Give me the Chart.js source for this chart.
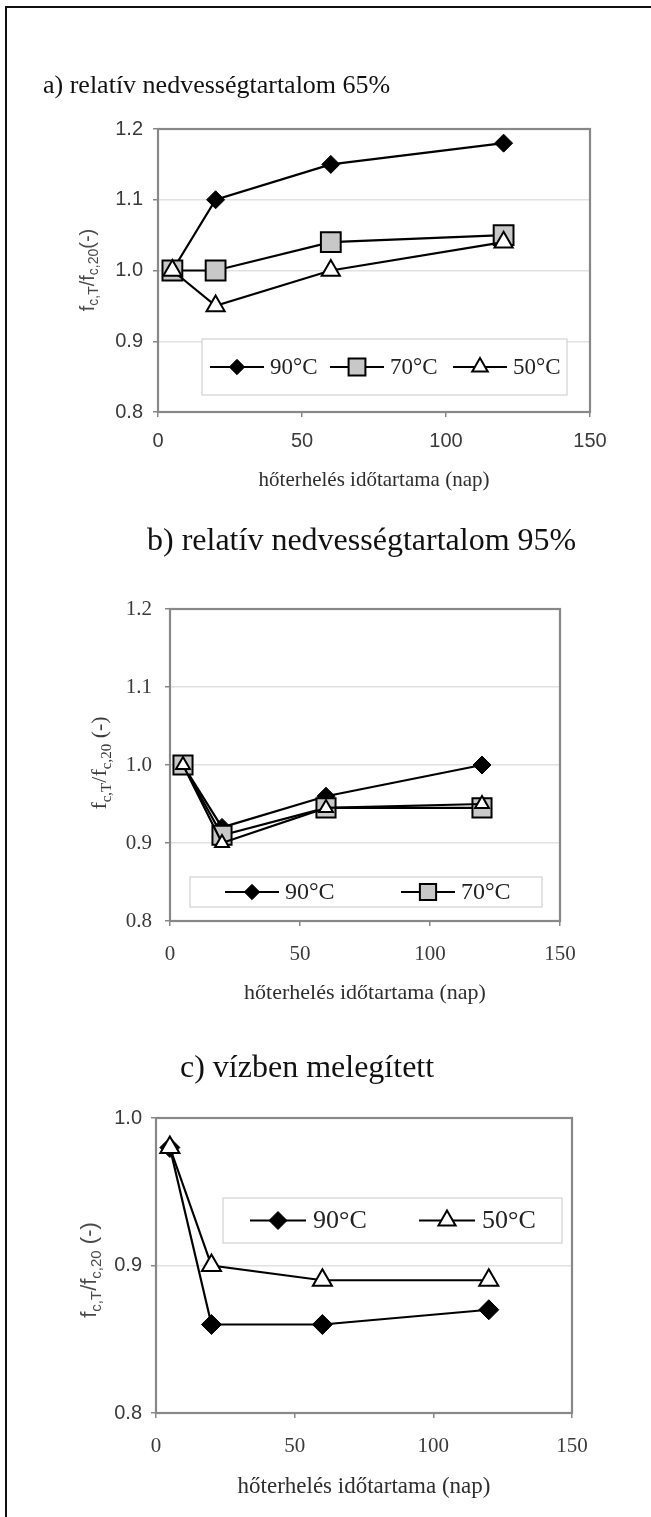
<!DOCTYPE html>
<html>
<head>
<meta charset="utf-8">
<title>Hőterhelés hatása a nyomószilárdságra</title>
<script src="https://cdn.jsdelivr.net/npm/chart.js@4.4.1/dist/chart.umd.min.js"></script>
<style>
  html, body { margin: 0; padding: 0; background: #fff; }
  #page { position: relative; width: 651px; height: 1517px; overflow: hidden; background: #fff; }
  #page canvas { position: absolute; left: 0; }
  .frame-top { position: absolute; left: 5px; top: 6px; width: 646px; border-top: 2px solid #111; }
  .frame-left { position: absolute; left: 5px; top: 6px; height: 1511px; border-left: 2px solid #111; }
</style>
</head>
<body>
<div id="page">
  <div class="frame-top"></div>
  <div class="frame-left"></div>
  <canvas id="chartA" width="651" height="510" style="top:0px"></canvas>
  <canvas id="chartB" width="651" height="510" style="top:510px"></canvas>
  <canvas id="chartC" width="651" height="497" style="top:1020px"></canvas>
</div>
<script>
// ---- data -------------------------------------------------------------
const days = [5, 20, 60, 120];                 // hőterhelés időtartama (nap)
const xTickValues = [0, 50, 100, 150];
const seriesNames = ['90°C', '70°C', '50°C'];

// a) relatív nedvességtartalom 65%
const rh65_90 = [1.00, 1.10, 1.15, 1.18];
const rh65_70 = [1.00, 1.00, 1.04, 1.05];
const rh65_50 = [1.00, 0.95, 1.00, 1.04];
const yTicksA = [0.8, 0.9, 1.0, 1.1, 1.2];

// b) relatív nedvességtartalom 95%
const rh95_90 = [1.00, 0.92, 0.96, 1.00];
const rh95_70 = [1.00, 0.91, 0.945, 0.945];
const rh95_50 = [1.00, 0.90, 0.945, 0.95];
const yTicksB = [0.8, 0.9, 1.0, 1.1, 1.2];

// c) vízben melegített
const water_90 = [0.98, 0.86, 0.86, 0.87];
const water_50 = [0.98, 0.90, 0.89, 0.89];
const yTicksC = [0.8, 0.9, 1.0];

const titles = ['a) relatív nedvességtartalom 65%', 'b) relatív nedvességtartalom 95%', 'c) vízben melegített'];
const xTitle = 'hőterhelés időtartama (nap)';

// ---- styling ----------------------------------------------------------
const SANS = "'Liberation Sans', Arial, sans-serif";
const SERIF = "'Liberation Serif', 'Times New Roman', serif";

const markerStyles = {
  '90°C': { pointStyle: 'rectRot', pointRadius: 9, pointBackgroundColor: '#000', pointBorderColor: '#000', pointBorderWidth: 1, order: 3 },
  '70°C': { pointStyle: 'rect', pointRadius: 14, pointBackgroundColor: '#c8c8c8', pointBorderColor: '#000', pointBorderWidth: 2, order: 2 },
  '50°C': { pointStyle: 'triangle', pointRadius: 10.5, pointBackgroundColor: '#fff', pointBorderColor: '#000', pointBorderWidth: 2, order: 1 }
};

function series(name, values, extra) {
  return Object.assign({
    label: name,
    data: days.map((d, i) => ({ x: d, y: values[i] })),
    borderColor: '#000',
    borderWidth: 2.2,
    pointHoverRadius: 0,
    tension: 0,
    fill: false
  }, markerStyles[name], extra || {});
}

// draws a single marker using the same shape logic the datasets use
function marker(ctx, ds, x, y, scale) {
  ctx.save();
  ctx.fillStyle = ds.pointBackgroundColor;
  ctx.strokeStyle = ds.pointBorderColor;
  ctx.lineWidth = ds.pointBorderWidth;
  Chart.helpers.drawPoint(ctx, {
    pointStyle: ds.pointStyle,
    radius: ds.pointRadius * scale,
    rotation: 0,
    borderWidth: ds.pointBorderWidth
  }, x, y);
  ctx.restore();
}

// frame, in-plot legend, panel title and the sub-scripted y-axis title
const panelPlugin = {
  id: 'panel',
  beforeDatasetsDraw(chart, args, o) {
    const { ctx, chartArea: a } = chart;
    ctx.save();
    ctx.strokeStyle = '#888';
    ctx.lineWidth = 2.2;
    ctx.strokeRect(a.left, a.top, a.right - a.left, a.bottom - a.top);
    ctx.restore();
  },
  afterDatasetsDraw(chart, args, o) {
    const { ctx, chartArea: a } = chart;
    const L = o.legend;
    const bx = a.left + L.left, by = a.top + L.top;
    ctx.save();
    ctx.fillStyle = '#fff';
    ctx.fillRect(bx, by, L.width, L.height);
    ctx.strokeStyle = '#d2d2d2';
    ctx.lineWidth = 1.2;
    ctx.strokeRect(bx, by, L.width, L.height);
    const cy = by + L.height / 2;
    L.items.forEach(it => {
      const ds = chart.data.datasets[it.ds];
      const mx = bx + it.x;
      ctx.strokeStyle = ds.borderColor;
      ctx.lineWidth = 2.2;
      ctx.beginPath();
      ctx.moveTo(mx - L.half, cy);
      ctx.lineTo(mx + L.half, cy);
      ctx.stroke();
      marker(ctx, ds, mx, cy, L.markerScale);
      ctx.fillStyle = '#222';
      ctx.font = L.fontSize + 'px ' + SERIF;
      ctx.textAlign = 'left';
      ctx.textBaseline = 'middle';
      ctx.fillText(ds.label, mx + L.gap, cy + 1);
    });
    ctx.restore();
  },
  afterDraw(chart, args, o) {
    const { ctx } = chart;
    const T = o.title;
    ctx.save();
    ctx.fillStyle = '#111';
    ctx.font = T.size + 'px ' + SERIF;
    ctx.textAlign = 'left';
    ctx.textBaseline = 'middle';
    ctx.fillText(T.text, T.x, T.y);

    // y-axis title: f c,T / f c,20 (-)
    const Y = o.yTitle;
    const parts = [
      { t: 'f', sub: false }, { t: 'c,T', sub: true }, { t: '/f', sub: false },
      { t: 'c,20', sub: true }, { t: Y.tail, sub: false }
    ];
    const fontOf = p => (p.sub ? Y.sub : Y.main) + 'px ' + Y.family;
    let total = 0;
    parts.forEach(p => { ctx.font = fontOf(p); p.w = ctx.measureText(p.t).width; total += p.w; });
    ctx.translate(Y.x, Y.y);
    ctx.rotate(-Math.PI / 2);
    ctx.fillStyle = Y.color;
    ctx.textAlign = 'left';
    ctx.textBaseline = 'alphabetic';
    let px = -total / 2;
    const base = Y.main * 0.35;
    parts.forEach(p => {
      ctx.font = fontOf(p);
      ctx.fillText(p.t, px, base + (p.sub ? Y.main * 0.22 : 0));
      px += p.w;
    });
    ctx.restore();
  }
};

function makeChart(id, datasets, cfg) {
  return new Chart(document.getElementById(id), {
    type: 'line',
    data: { datasets },
    plugins: [panelPlugin],
    options: {
      responsive: false,
      animation: false,
      events: [],
      layout: { padding: { top: cfg.top, left: 0, right: cfg.right, bottom: 0 } },
      plugins: {
        legend: { display: false },
        tooltip: { enabled: false },
        panel: cfg.panel
      },
      scales: {
        x: {
          type: 'linear',
          min: 0, max: 150,
          afterBuildTicks: s => { s.ticks = xTickValues.map(v => ({ value: v })); },
          afterFit: s => { s.height = cfg.xHeight; },
          grid: { drawOnChartArea: false, drawTicks: true, tickLength: 5, tickColor: '#888', lineWidth: 1.5 },
          border: { display: false },
          ticks: {
            font: { family: cfg.xTickFamily, size: cfg.xTickSize },
            color: '#3a3a3a',
            padding: cfg.xTickPad,
            maxRotation: 0,
            callback: v => String(v)
          },
          title: {
            display: true,
            text: xTitle,
            font: { family: SERIF, size: cfg.xTitleSize },
            color: '#2e2e2e',
            padding: { top: 0, bottom: cfg.xTitlePad }
          }
        },
        y: {
          type: 'linear',
          min: cfg.yTicks[0], max: cfg.yTicks[cfg.yTicks.length - 1],
          afterBuildTicks: s => { s.ticks = cfg.yTicks.map(v => ({ value: v })); },
          afterFit: s => { s.width = cfg.left; },
          grid: { color: '#e2e2e2', lineWidth: 1.5, drawTicks: true, tickLength: 5, tickColor: '#888' },
          border: { display: false },
          ticks: {
            font: { family: cfg.yTickFamily, size: cfg.yTickSize },
            color: '#3a3a3a',
            padding: cfg.yTickPad,
            callback: v => Number(v).toFixed(1)
          }
        }
      }
    }
  });
}

// a) 65%
makeChart('chartA', [
  series('90°C', rh65_90), series('70°C', rh65_70), series('50°C', rh65_50)
], {
  top: 129, right: 61, left: 158, xHeight: 98, yTicks: yTicksA,
  xTickFamily: SANS, xTickSize: 20, xTickPad: 12, xTitleSize: 21, xTitlePad: 17,
  yTickFamily: SANS, yTickSize: 20, yTickPad: 10,
  panel: {
    title: { text: titles[0], x: 43, y: 86, size: 26 },
    yTitle: { x: 87, y: 270, family: SANS, main: 20, sub: 14, color: '#4a4a4a', tail: '(-)' },
    legend: { left: 44, top: 210, width: 365, height: 56, half: 27, gap: 33, fontSize: 23, markerScale: 0.85,
      items: [{ ds: 0, x: 35 }, { ds: 1, x: 155 }, { ds: 2, x: 278 }] }
  }
});

// b) 95%
makeChart('chartB', [
  series('90°C', rh95_90), series('70°C', rh95_70, { pointRadius: 13.5 }), series('50°C', rh95_50, { pointRadius: 8 })
], {
  top: 99, right: 91, left: 170, xHeight: 99, yTicks: yTicksB,
  xTickFamily: SERIF, xTickSize: 21, xTickPad: 16, xTitleSize: 22, xTitlePad: 14,
  yTickFamily: SERIF, yTickSize: 21, yTickPad: 13,
  panel: {
    title: { text: titles[1], x: 147, y: 32, size: 32 },
    yTitle: { x: 98, y: 253, family: SERIF, main: 22, sub: 15, color: '#3a3a3a', tail: ' (-)' },
    legend: { left: 20, top: 268, width: 352, height: 30, half: 27, gap: 33, fontSize: 24, markerScale: 0.85,
      items: [{ ds: 0, x: 62 }, { ds: 1, x: 238 }] }
  }
});

// c) vízben melegített
makeChart('chartC', [
  series('90°C', water_90, { pointRadius: 10 }), series('50°C', water_50, { pointRadius: 11 })
], {
  top: 98, right: 79, left: 156, xHeight: 104, yTicks: yTicksC,
  xTickFamily: SERIF, xTickSize: 21, xTickPad: 16, xTitleSize: 23, xTitlePad: 16,
  yTickFamily: SANS, yTickSize: 20, yTickPad: 9,
  panel: {
    title: { text: titles[2], x: 180, y: 49, size: 32 },
    yTitle: { x: 88, y: 250, family: SANS, main: 22, sub: 15, color: '#4a4a4a', tail: ' (-)' },
    legend: { left: 67, top: 80, width: 339, height: 45, half: 28, gap: 35, fontSize: 26, markerScale: 0.9,
      items: [{ ds: 0, x: 55 }, { ds: 1, x: 224 }] }
  }
});
</script>
</body>
</html>
